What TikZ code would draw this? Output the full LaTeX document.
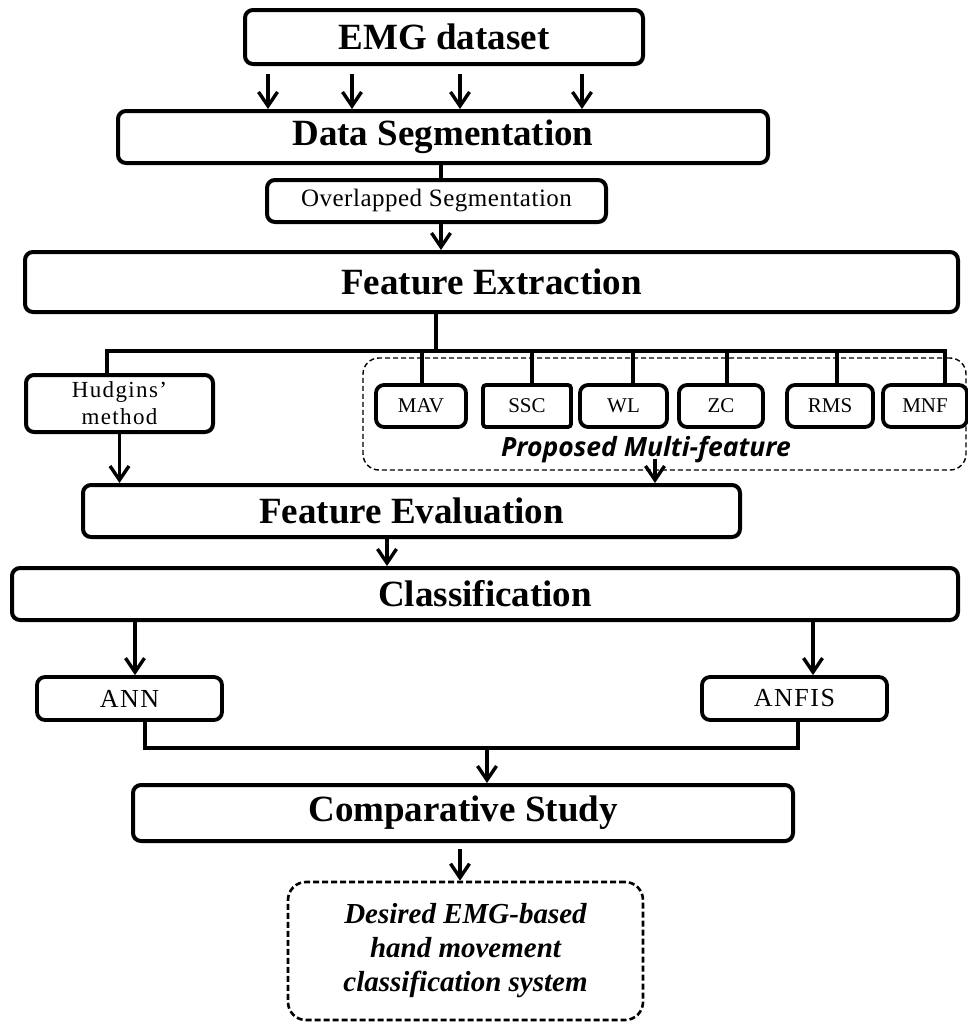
\documentclass[tikz,border=0pt]{standalone}
\usepackage{fontspec}
\setmainfont{Liberation Serif}
\newfontfamily\propfont{Open Sans}
\usetikzlibrary{arrows.meta}
\begin{document}
\begin{tikzpicture}[x=1pt,y=-1pt,
  box/.style={draw, line width=4pt, rounded corners=8pt, inner sep=0pt, align=center, fill=white},
  feat/.style={box, line width=3.8pt, minimum width=#1, minimum height=42pt, font=\fontsize{21}{22}\selectfont},
  dbox/.style={draw, dashed, line width=1.4pt, rounded corners=16pt, dash pattern=on 5pt off 3pt},
  ln/.style={line width=3.4pt},
  arr/.style={line width=3.4pt, -{Straight Barb[length=14pt,width=19pt,line width=3.4pt]}},
  bigtxt/.style={font=\fontsize{37}{40}\selectfont\bfseries}
]
\useasboundingbox (0,0) rectangle (967,1023);

% main boxes
\node[box, bigtxt, minimum width=398pt, minimum height=54pt] (emg) at (444,37) {EMG dataset};
\node[box, bigtxt, minimum width=650pt, minimum height=52pt] (seg) at (443,137) {Data Segmentation};
\node[box, minimum width=339pt, minimum height=42pt, font=\fontsize{25}{26}\selectfont\addfontfeature{LetterSpace=2}] (ovl) at (436.5,201) {Overlapped Segmentation};
\node[box, bigtxt, minimum width=933pt, minimum height=60pt] (fe) at (491.5,282) {Feature Extraction};

% proposed multi-feature group
\node[dbox, minimum width=603pt, minimum height=112pt] (prop) at (664.5,414) {};
\node[font=\propfont\fontsize{26.5}{28}\selectfont\bfseries\itshape, inner sep=0pt] (proptxt) at (646,450) {Proposed Multi-feature};

\node[box, minimum width=187pt, minimum height=57pt, font=\fontsize{23}{27}\selectfont\addfontfeature{LetterSpace=6}] (hud) at (119.5,403.5) {Hudgins'\\method};
\node[feat=90pt] (mav) at (421,406) {MAV};
\node[feat=88pt, rounded corners=3pt] (ssc) at (527,406) {SSC};
\node[feat=87pt] (wl) at (623.5,406) {WL};
\node[feat=84pt] (zc) at (721,406) {ZC};
\node[feat=86pt] (rms) at (830,406) {RMS};
\node[feat=84pt] (mnf) at (925,406) {MNF};

\node[box, bigtxt, minimum width=657pt, minimum height=52pt] (feval) at (411.5,511) {Feature Evaluation};
\node[box, bigtxt, minimum width=946pt, minimum height=52pt] (cls) at (485,594) {Classification};
\node[box, line width=3.8pt, minimum width=185pt, minimum height=43pt, font=\fontsize{26}{27}\selectfont\addfontfeature{LetterSpace=6}] (ann) at (129.5,698.5) {ANN};
\node[box, line width=3.8pt, minimum width=185pt, minimum height=43pt, font=\fontsize{26}{27}\selectfont\addfontfeature{LetterSpace=6}] (anfis) at (794.5,698.5) {ANFIS};
\node[box, bigtxt, minimum width=660pt, minimum height=56pt] (comp) at (463,813) {Comparative Study};
\node[draw, dashed, line width=2.6pt, dash pattern=on 6pt off 3pt, rounded corners=18pt, minimum width=355pt, minimum height=138pt, inner sep=0pt, align=center, font=\fontsize{29}{34}\selectfont\bfseries\itshape] (des) at (465.5,951) {Desired EMG-based\\hand movement\\classification system};

% coordinates
\coordinate (a1) at (268,0);
\coordinate (a2) at (352,0);
\coordinate (a3) at (460,0);
\coordinate (a4) at (582,0);
\coordinate (c441) at (441,0);
\coordinate (busL) at (0,351);
\coordinate (join) at (487,748);

% connectors top
\foreach \c in {a1,a2,a3,a4}
  \draw[arr] ([yshift=-8pt]emg.south -| \c) -- (seg.north -| \c);
\draw[ln] (seg.south -| c441) -- (ovl.north -| c441);
\draw[arr] (ovl.south -| c441) -- (fe.north -| c441);

% bus
\draw[ln] ([xshift=-55.5pt]fe.south) -- ([xshift=-55.5pt]fe.south |- busL);
\draw[ln, line join=miter] ([xshift=-12.5pt]hud.north) |- ([xshift=20pt]mnf.north |- busL) -- ([xshift=20pt]mnf.north);
\draw[ln] ([xshift=1pt]mav.north) -- ([xshift=1pt]mav.north |- busL);
\draw[ln] ([xshift=5pt]ssc.north) -- ([xshift=5pt]ssc.north |- busL);
\draw[ln] ([xshift=9.5pt]wl.north) -- ([xshift=9.5pt]wl.north |- busL);
\draw[ln] ([xshift=6pt]zc.north) -- ([xshift=6pt]zc.north |- busL);
\draw[ln] ([xshift=7pt]rms.north) -- ([xshift=7pt]rms.north |- busL);

% into feature evaluation
\draw[arr] (hud.south) -- (hud.south |- feval.north);
\draw[arr] ([xshift=-9.5pt,yshift=12pt]prop.south) -- ([xshift=-9.5pt]prop.south |- feval.north);
\draw[arr] ([xshift=-24.5pt]feval.south) -- ([xshift=-24.5pt]feval.south |- cls.north);

% classification to classifiers
\draw[arr] ([xshift=5.5pt]ann.north |- cls.south) -- ([xshift=5.5pt]ann.north);
\draw[arr] ([xshift=18.5pt]anfis.north |- cls.south) -- ([xshift=18.5pt]anfis.north);
\draw[ln, line join=miter] ([xshift=15.5pt]ann.south) |- (join) -| ([xshift=3.5pt]anfis.south);
\draw[arr] (join) -- (join |- comp.north);
\draw[arr] ([xshift=-5.5pt,yshift=-6pt]des.north |- comp.south) -- ([xshift=-5.5pt]des.north);
\end{tikzpicture}
\end{document}
